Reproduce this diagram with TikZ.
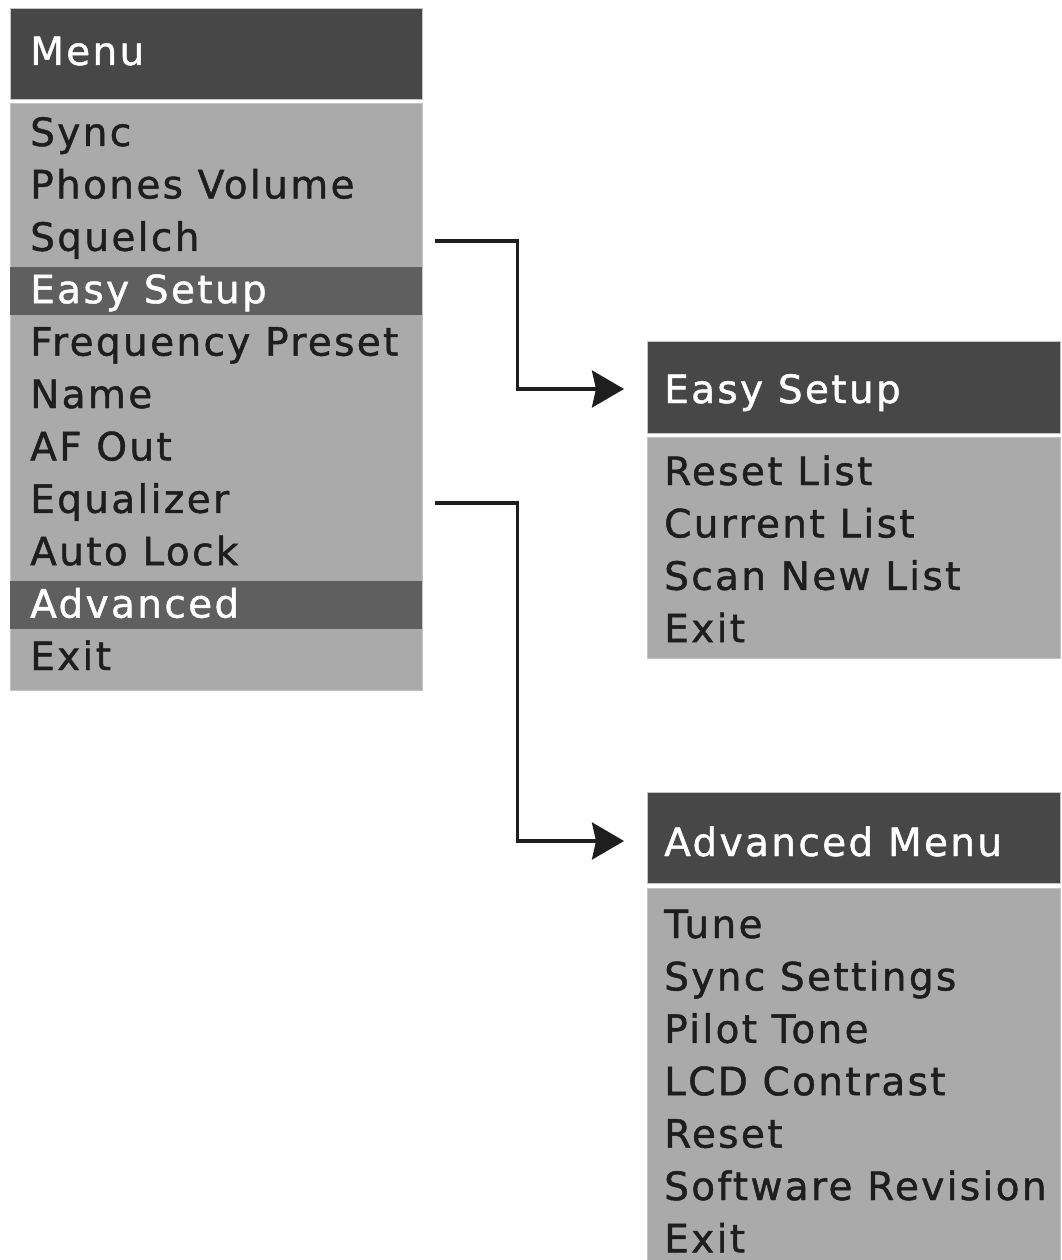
\documentclass[tikz,border=0pt]{standalone}
\usepackage{fontspec}
\setmainfont{DejaVu Sans}[LetterSpace=6,FakeBold=1.2]
\usetikzlibrary{arrows.meta}
\definecolor{hdr}{HTML}{474747}
\definecolor{bodyg}{HTML}{AAAAAA}
\definecolor{hil}{HTML}{5F5F5F}
\definecolor{txt}{HTML}{1E1E1E}
\definecolor{edge}{HTML}{C4C4C4}
\tikzset{
  hdrbox/.style={fill=hdr, draw=edge, line width=0.8pt},
  bodybox/.style={fill=bodyg, draw=edge, line width=0.8pt},
  hilbox/.style={fill=hil},
  item/.style={anchor=base west, inner sep=0pt, text=txt, font=\fontsize{39}{46}\selectfont},
  hitem/.style={item, text=white},
  arr/.style={line width=3.5pt, draw=txt, -{Stealth[length=32pt,width=37pt,inset=4pt]}}
}
\begin{document}
\begin{tikzpicture}[x=1pt,y=-1pt]
\useasboundingbox (0,0) rectangle (1062,1260);
% main menu
\path[hdrbox] (10,8) rectangle (422,99);
\path[bodybox] (10,103) rectangle (422,690);
\path[hilbox] (10,267) rectangle (422,315);
\path[hilbox] (10,581) rectangle (422,629);
\node[hitem] (mhead) at (30,65) {Menu};
\foreach \t [count=\i] in {Sync,Phones Volume,Squelch,Easy Setup,Frequency Preset,Name,AF Out,Equalizer,Auto Lock,Advanced,Exit}{
  \ifnum\i=4 \def\st{hitem}\else\ifnum\i=10 \def\st{hitem}\else\def\st{item}\fi\fi
  \node[\st] (m\i) at (30,{146+52.4*(\i-1)}) {\t};
}
% easy setup menu
\path[hdrbox] (647,341) rectangle (1060,433);
\path[bodybox] (647,437) rectangle (1060,658);
\node[hitem] (ehead) at (664,403) {Easy Setup};
\coordinate (ein) at (624,389);
\foreach \t [count=\i] in {Reset List,Current List,Scan New List,Exit}{
  \node[item] (e\i) at (664,{485+52.4*(\i-1)}) {\t};
}
% advanced menu
\path[hdrbox] (647,792) rectangle (1060,883);
\path[bodybox] (647,888) rectangle (1060,1262);
\node[hitem] (ahead) at (664,856) {Advanced Menu};
\coordinate (ain) at (624,841);
\foreach \t [count=\i] in {Tune,Sync Settings,Pilot Tone,LCD Contrast,Reset,Software Revision,Exit}{
  \node[item] (a\i) at (664,{938+52.4*(\i-1)}) {\t};
}
% connectors
\coordinate (s1) at (435,241);
\coordinate (s2) at (435,503);
\draw[arr] (s1) -- (517.5,241) |- (ein);
\draw[arr] (s2) -- (517.5,503) |- (ain);
\end{tikzpicture}
\end{document}
